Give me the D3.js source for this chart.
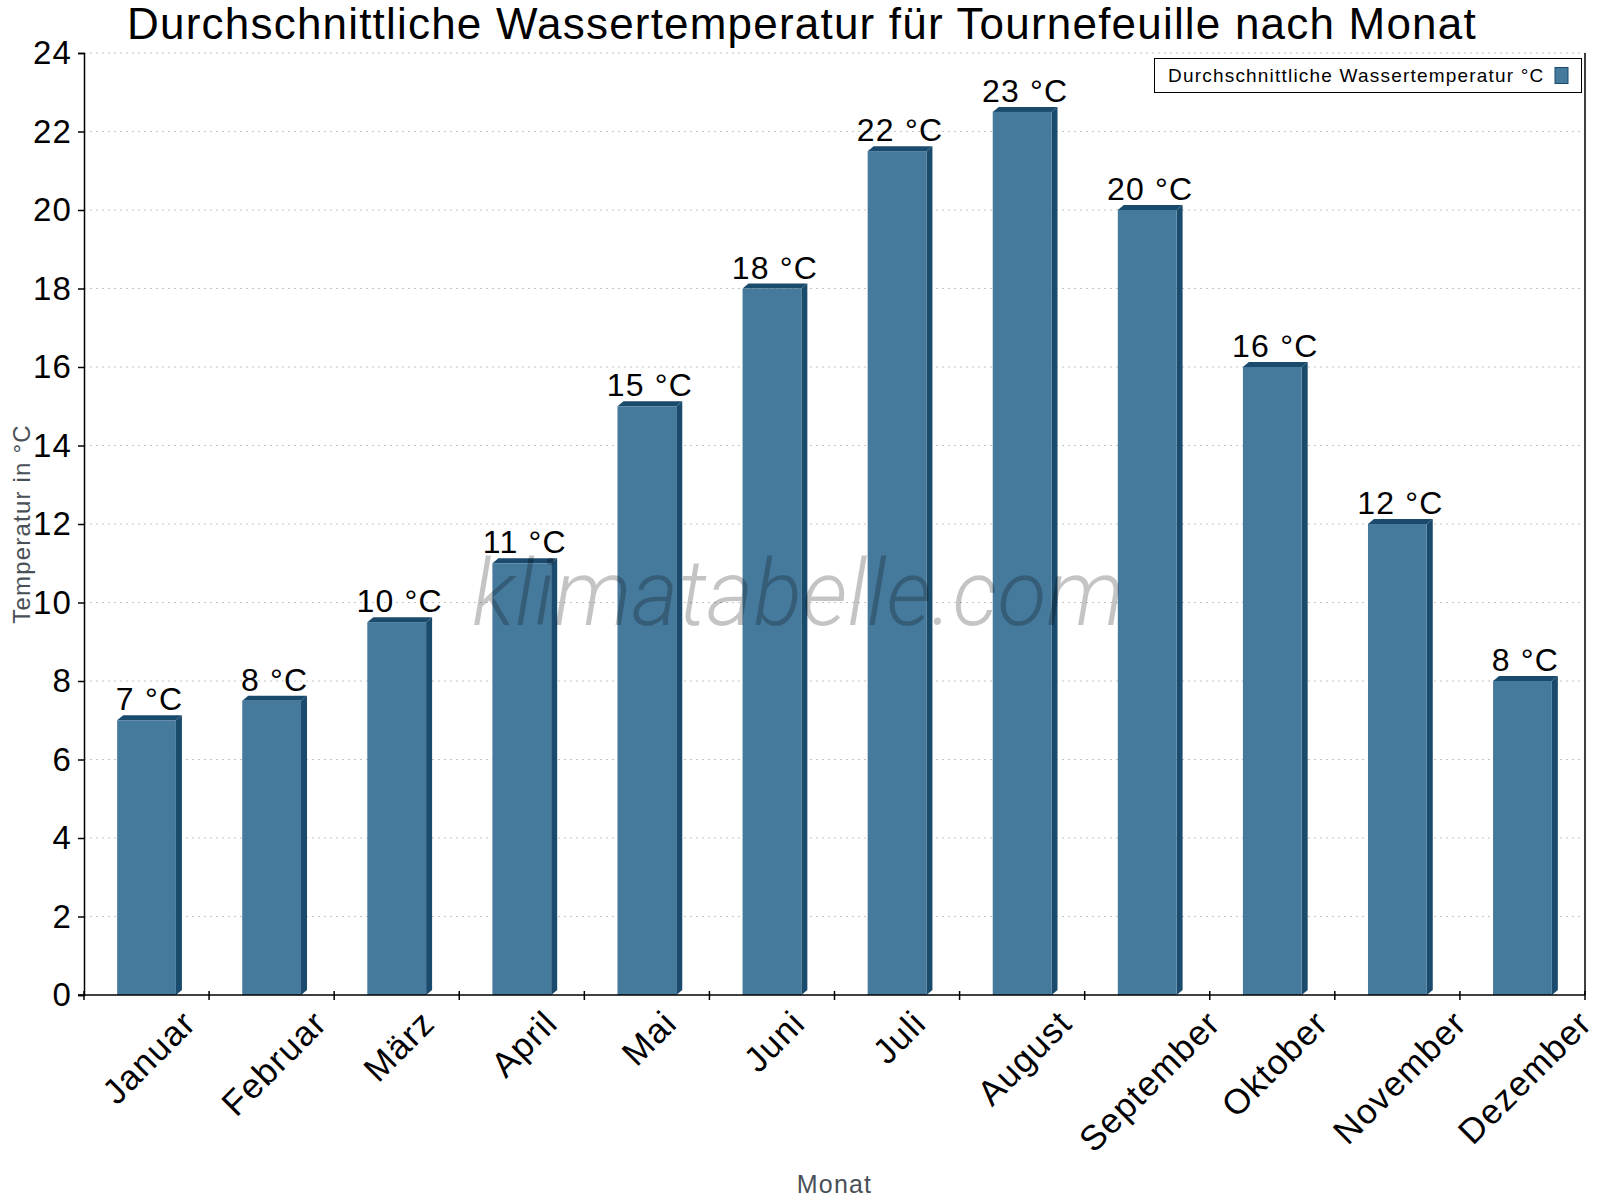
<!DOCTYPE html>
<html>
<head>
<meta charset="utf-8">
<script src="https://cdn.jsdelivr.net/npm/d3@7"></script>
<style>
	body { margin: 0; background: #fff; }
	svg text { font-family: "Liberation Sans", Arial, sans-serif; letter-spacing: 1.2px; }
	.grid line { stroke: #c4c4c4; stroke-dasharray: 2,4; }
</style>
</head>
<body>
<div id="chart"></div>
<script>
(function () {
	"use strict";

	var months = ["Januar", "Februar", "März", "April", "Mai", "Juni",
		"Juli", "August", "September", "Oktober", "November", "Dezember"];
	var waterTemp = [7, 7.5, 9.5, 11, 15, 18, 21.5, 22.5, 20, 16, 12, 8];
	var yTicks = [0, 2, 4, 6, 8, 10, 12, 14, 16, 18, 20, 22, 24];

	var title = "Durchschnittliche Wassertemperatur für Tournefeuille nach Monat",
		legendLabel = "Durchschnittliche Wassertemperatur °C",
		yLabel = "Temperatur in °C",
		xLabel = "Monat";

	var frontColor = "#467a9d",
		darkColor = "#1b4b6c",
		depth = {x: 6, y: 5};

	var width = 1600, height = 1200,
		margin = {top: 53, right: 15, bottom: 205, left: 84},
		plotW = width - margin.left - margin.right,
		plotH = height - margin.top - margin.bottom;

	var svg = d3.select("#chart").append("svg")
		.attr("width", width)
		.attr("height", height);

	var x = d3.scaleBand()
		.domain(months)
		.range([margin.left, margin.left + plotW])
		.paddingInner(0.53)
		.paddingOuter(0.265);

	var y = d3.scaleLinear()
		.domain([0, 24])
		.range([margin.top + plotH, margin.top]);

	// grid
	svg.append("g").attr("class", "grid")
		.selectAll("line").data(yTicks.slice(1)).enter().append("line")
		.attr("x1", margin.left).attr("x2", margin.left + plotW)
		.attr("y1", function (d) { return y(d); })
		.attr("y2", function (d) { return y(d); });

	// bars with a little 3D side and top
	var bars = svg.append("g").selectAll("g").data(waterTemp).enter().append("g");
	bars.append("path")
		.attr("fill", darkColor)
		.attr("d", function (d, i) {
			var x1 = x(months[i]) + x.bandwidth(), y0 = y(0), yt = y(d);
			return "M" + x1 + "," + yt + "L" + (x1 + depth.x) + "," + (yt - depth.y) +
				"L" + (x1 + depth.x) + "," + (y0 - depth.y) + "L" + x1 + "," + y0 + "Z";
		});
	bars.append("path")
		.attr("fill", darkColor)
		.attr("d", function (d, i) {
			var x0 = x(months[i]), x1 = x0 + x.bandwidth(), yt = y(d);
			return "M" + x0 + "," + yt + "L" + (x0 + depth.x) + "," + (yt - depth.y) +
				"L" + (x1 + depth.x) + "," + (yt - depth.y) + "L" + x1 + "," + yt + "Z";
		});
	bars.append("rect")
		.attr("fill", frontColor)
		.attr("x", function (d, i) { return x(months[i]); })
		.attr("y", function (d) { return y(d); })
		.attr("width", x.bandwidth())
		.attr("height", function (d) { return y(0) - y(d); });

	// value labels
	bars.append("text")
		.attr("x", function (d, i) { return x(months[i]) + x.bandwidth() / 2 + 3; })
		.attr("y", function (d) { return y(d) - 10; })
		.attr("text-anchor", "middle")
		.attr("font-size", 32)
		.text(function (d) { return Math.round(d) + " °C"; });

	// watermark
	svg.append("text")
		.attr("x", 472).attr("y", 625)
		.attr("textLength", 652)
		.attr("lengthAdjust", "spacingAndGlyphs")
		.style("font-family", "Roboto, sans-serif")
		.style("font-style", "italic")
		.style("font-weight", 300)
		.style("letter-spacing", "0px")
		.attr("font-size", 92)
		.attr("fill", "#000")
		.attr("fill-opacity", 0.23)
		.text("klimatabelle.com");

	// y axis
	var yAxis = svg.append("g")
		.attr("transform", "translate(" + margin.left + ",0)")
		.call(d3.axisLeft(y).tickValues(yTicks).tickSize(6).tickPadding(6));
	yAxis.selectAll("text").attr("font-size", 33).attr("fill", "#000").attr("font-family", null);
	yAxis.selectAll("line, path").attr("stroke", "#000").attr("stroke-width", 1.5);

	// right frame line
	svg.append("line")
		.attr("x1", margin.left + plotW).attr("x2", margin.left + plotW)
		.attr("y1", margin.top).attr("y2", y(0))
		.attr("stroke", "#000").attr("stroke-width", 1.5);

	// x axis line and boundary ticks
	var xAxis = svg.append("g");
	xAxis.append("line")
		.attr("x1", margin.left - 6).attr("x2", margin.left + plotW)
		.attr("y1", y(0)).attr("y2", y(0))
		.attr("stroke", "#000").attr("stroke-width", 1.5);
	xAxis.selectAll("line.tick").data(d3.range(months.length + 1)).enter().append("line")
		.attr("class", "tick")
		.attr("x1", function (i) { return x.range()[0] + i * x.step(); })
		.attr("x2", function (i) { return x.range()[0] + i * x.step(); })
		.attr("y1", y(0) - 4).attr("y2", y(0) + 5)
		.attr("stroke", "#000").attr("stroke-width", 1.5);

	// rotated month labels, centred on the bar
	var topY = y(0) + 12;
	xAxis.selectAll("text").data(months).enter().append("text")
		.attr("text-anchor", "middle")
		.attr("dominant-baseline", "central")
		.attr("font-size", 35)
		.text(function (d) { return d; })
		.attr("transform", function (d) {
			var w = this.getComputedTextLength(), h = 27,
				cx = x(d) + x.bandwidth() / 2 + 2,
				cy = topY + (w / 2 + h / 2) * Math.SQRT1_2;
			return "translate(" + cx + "," + cy + ") rotate(-45)";
		});

	// axis titles
	svg.append("text")
		.attr("transform", "translate(30," + (margin.top + plotH / 2) + ") rotate(-90)")
		.attr("text-anchor", "middle")
		.attr("font-size", 24)
		.attr("fill", "#4a5058")
		.text(yLabel);
	svg.append("text")
		.attr("x", margin.left + plotW / 2).attr("y", 1193)
		.attr("text-anchor", "middle")
		.attr("font-size", 25)
		.attr("fill", "#4a5058")
		.text(xLabel);

	// title
	svg.append("text")
		.attr("x", 802).attr("y", 39)
		.attr("text-anchor", "middle")
		.attr("font-size", 44)
		.text(title);

	// legend
	var legend = svg.append("g");
	legend.append("rect")
		.attr("x", 1154.5).attr("y", 58.5).attr("width", 427).attr("height", 34)
		.attr("fill", "#fff").attr("stroke", "#000").attr("stroke-width", 1);
	legend.append("text")
		.attr("x", 1168).attr("y", 82)
		.attr("font-size", 19)
		.text(legendLabel);
	legend.append("rect")
		.attr("x", 1555).attr("y", 67.5).attr("width", 13).attr("height", 16)
		.attr("fill", frontColor).attr("stroke", darkColor).attr("stroke-width", 1);
})();
</script>
</body>
</html>
